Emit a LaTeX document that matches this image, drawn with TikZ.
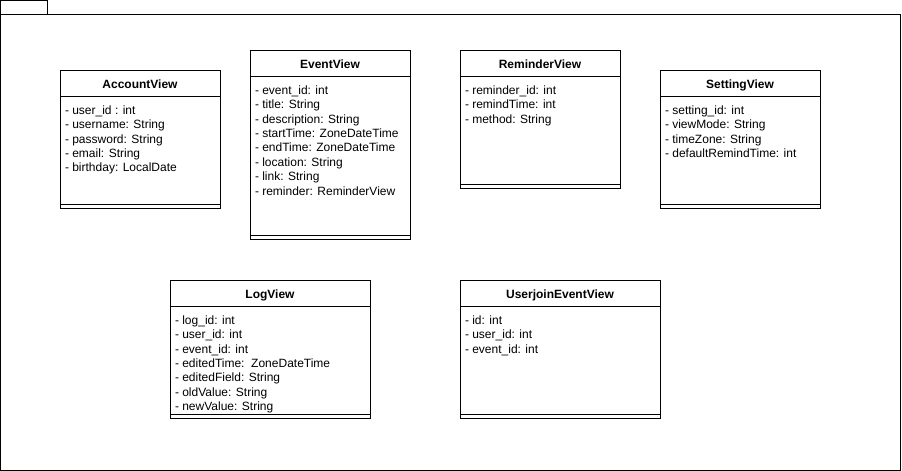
\documentclass[tikz,border=0pt]{standalone}
\usepackage{fontspec}
\setmainfont{Liberation Sans}
\newcommand{\umlclass}[7]{%
  \node[classbox, minimum width=#4pt, minimum height=#5pt] (#1) at (#2,#3) {};
  \draw ([yshift=-26pt]#1.north west) -- ([yshift=-26pt]#1.north east);
  \draw ([yshift=4pt]#1.south west) -- ([yshift=4pt]#1.south east);
  \node[ctitle] (#1-t) at ([yshift=-18pt]#1.north) {#6};
  \foreach \a [count=\i] in {#7}
    \node[cattr] (#1-\i) at ([xshift=4.5pt,yshift={-44.2pt-14.4pt*(\i-1)}]#1.north west) {\a};
}
\begin{document}
\begin{tikzpicture}[x=1pt,y=-1pt, line width=1pt,
  classbox/.style={draw=black, rectangle, inner sep=0pt, outer sep=0pt, anchor=north west},
  ctitle/.style={font=\fontsize{12}{14.4}\selectfont\bfseries, anchor=base, inner sep=0pt},
  cattr/.style={font=\fontsize{12}{14.4}\selectfont, anchor=base west, inner sep=0pt},
  pkg/.style={draw=black, rectangle, inner sep=0pt, outer sep=0pt, anchor=north west}]
\useasboundingbox (0,0) rectangle (902,471);
% package
\node[pkg, minimum width=46.5pt, minimum height=13.5pt] (tab) at (0.5,0.5) {};
\node[pkg, minimum width=899.5pt, minimum height=456pt] (pkgbody) at (0.5,14) {};
% classes
\umlclass{acc}{60}{70}{160}{138}{AccountView}{- user\_id : int, - username: String, - password: String, - email: String, - birthday: LocalDate}
\umlclass{evt}{250}{50}{160}{189}{EventView}{- event\_id: int, - title: String, - description: String, - startTime: ZoneDateTime, - endTime: ZoneDateTime, - location: String, - link: String, - reminder: ReminderView}
\umlclass{rem}{460}{50}{160}{138}{ReminderView}{- reminder\_id: int, - remindTime: int, - method: String}
\umlclass{set}{660}{70}{160}{138}{SettingView}{- setting\_id: int, - viewMode: String, - timeZone: String, - defaultRemindTime: int}
\umlclass{log}{170}{280}{200}{138}{LogView}{- log\_id: int, - user\_id: int, - event\_id: int, - editedTime:\ \ ZoneDateTime, - editedField: String, - oldValue: String, - newValue: String}
\umlclass{uje}{460}{280}{200}{138}{UserjoinEventView}{- id: int, - user\_id: int, - event\_id: int}
\end{tikzpicture}
\end{document}
